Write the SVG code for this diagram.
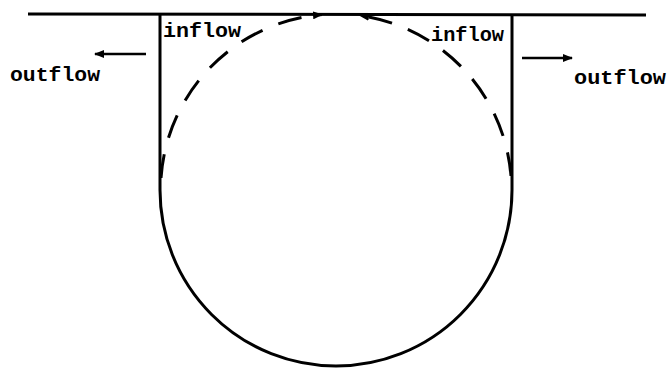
<svg xmlns="http://www.w3.org/2000/svg" width="668" height="370" viewBox="0 0 668 370">
<defs>
<marker id="ah" viewBox="0 0 10 8" refX="9" refY="4" markerWidth="10" markerHeight="8" markerUnits="userSpaceOnUse" orient="auto">
<path d="M0,0 L10,4 L0,8 Z" fill="#000"/>
</marker>
<style>
.wall{fill:none;stroke:#000;stroke-width:3}
.flow{fill:none;stroke:#000;stroke-width:3;stroke-dasharray:24 17}
.arr{fill:none;stroke:#000;stroke-width:2.5}
text{font-family:"Liberation Mono","DejaVu Sans Mono",monospace;font-weight:bold;font-size:20px;fill:#000}
</style>
</defs>
<rect width="668" height="370" fill="#fff"/>
<g id="vessel">
<line class="wall" x1="28" y1="14" x2="646" y2="15"/>
<path class="wall" d="M160,14 L160,190 A176,176 0 0 0 512,190 L512,15"/>
</g>
<g id="connectors">
<path class="flow" d="M161,178 A176,176 0 0 1 322,14.6" marker-end="url(#ah)"/>
<path class="flow" d="M511,176 A176,176 0 0 0 360,15.6" marker-end="url(#ah)"/>
<line class="arr" x1="146" y1="54" x2="95" y2="54" marker-end="url(#ah)"/>
<line class="arr" x1="522" y1="58" x2="572" y2="58" marker-end="url(#ah)"/>
</g>
<g id="label-inflow-left"><text x="163" y="37" textLength="78" lengthAdjust="spacingAndGlyphs">inflow</text></g>
<g id="label-inflow-right"><text x="431" y="41" textLength="73" lengthAdjust="spacingAndGlyphs">inflow</text></g>
<g id="label-outflow-left"><text x="10" y="81" textLength="90" lengthAdjust="spacingAndGlyphs">outflow</text></g>
<g id="label-outflow-right"><text x="574" y="84" textLength="92" lengthAdjust="spacingAndGlyphs">outflow</text></g>
</svg>
